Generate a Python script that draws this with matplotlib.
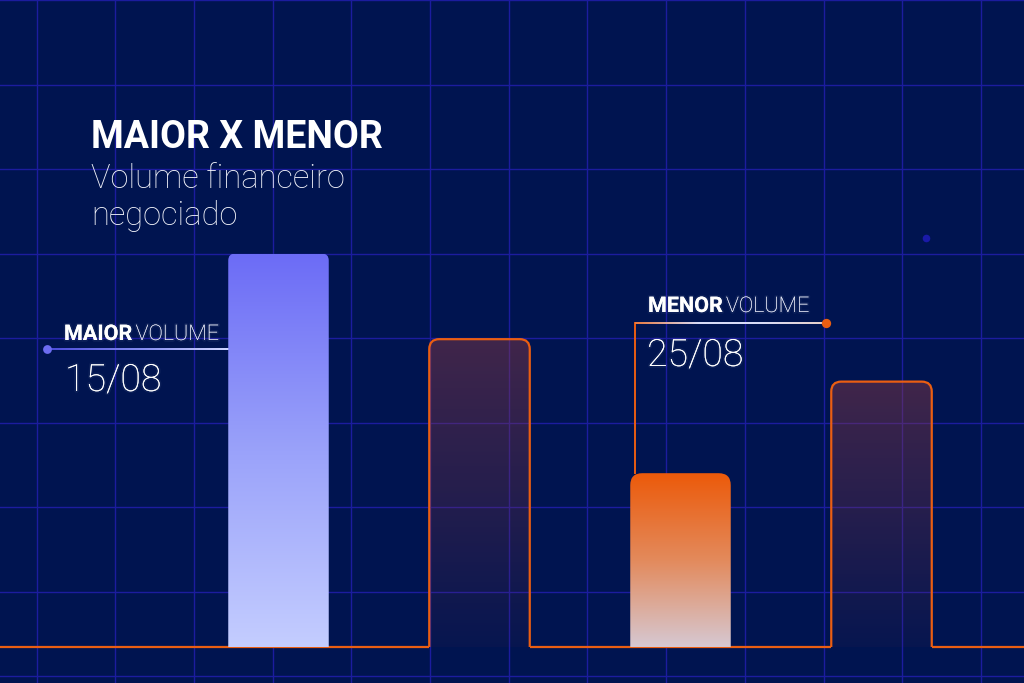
import numpy as np
import matplotlib.pyplot as plt
import matplotlib.patheffects as pe
from matplotlib.patches import FancyBboxPatch, Rectangle
from matplotlib.colors import to_rgb

# dados (volume relativo, maior = 100)
volumes = [100, 78.2, 44.1, 67.4]
bar_kind = ['maior', 'outline', 'menor', 'outline']

title = 'MAIOR X MENOR'
subtitle = ['Volume financeiro', 'negociado']
maior_label = ['MAIOR', 'VOLUME']
maior_date = '15/08'
menor_label = ['MENOR', 'VOLUME']
menor_date = '25/08'

BG = '#001450'
GRID = '#1c1c9e'
ORANGE = '#ea5e12'
W, H = 1024, 683

plt.rcParams['font.family'] = ['Roboto', 'DejaVu Sans']

fig = plt.figure(figsize=(W / 100, H / 100), dpi=100)
fig.patch.set_facecolor(BG)

# fundo em pixels: grade
bg = fig.add_axes([0, 0, 1, 1])
bg.axis('off')
bg.set_xlim(0, W)
bg.set_ylim(H, 0)
bg.set_autoscale_on(False)
for gx in np.arange(36.5, W, 78.7):
    bg.axvline(gx, color=GRID, lw=1.0, zorder=0)
for gy in np.arange(0, H, 84.5):
    bg.axhline(gy, color=GRID, lw=1.0, zorder=0)
bg.scatter([926], [238], s=30, color='#1a1aa8', zorder=1, linewidths=0)

# eixo dos dados
step, ppu = 201.0, 3.93   # px por categoria / px por unidade
x0px, base_px = 278.5, 36.5
ax = fig.add_axes([0, 0, 1, 1])
ax.patch.set_alpha(0)
ax.axis('off')
xlim = (-x0px / step, (W - x0px) / step)
ylim = (-base_px / ppu, (H - base_px) / ppu)
x = np.arange(len(volumes))
bars = ax.bar(x, volumes, width=0.5, alpha=0)
ax.set_xlim(*xlim)
ax.set_ylim(*ylim)
ax.set_autoscale_on(False)

def rounded(b, r_px=10, bottom=-3, **kw):
    p = FancyBboxPatch((b.get_x(), bottom), b.get_width(), b.get_height() - bottom,
                       boxstyle=f'round,pad=0,rounding_size={r_px / step}',
                       mutation_aspect=step / ppu, transform=ax.transData, **kw)
    return p

def grad_img(stops, alphas, vertical=True):
    t = np.linspace(0, 1, 256)
    pos = np.linspace(0, 1, len(stops))
    cols = np.array([to_rgb(c) for c in stops])
    rgb = np.stack([np.interp(t, pos, cols[:, i]) for i in range(3)], axis=1)
    a = np.interp(t, np.linspace(0, 1, len(alphas)), alphas)[:, None]
    img = np.concatenate([rgb, a], axis=1)
    return img[:, None, :] if vertical else img[None, :, :]

def gradient(b, stops, alphas, clip, z):
    im = ax.imshow(grad_img(stops, alphas),
                   extent=(b.get_x(), b.get_x() + b.get_width(), 0, b.get_height()),
                   origin='upper', aspect='auto', interpolation='bilinear', zorder=z)
    im.set_clip_path(clip)

above = Rectangle((xlim[0], 0), xlim[1] - xlim[0], ylim[1], transform=ax.transData)

# linha de base laranja
segs = [(xlim[0], bars[1].get_x()),
        (bars[1].get_x() + bars[1].get_width(), bars[3].get_x()),
        (bars[3].get_x() + bars[3].get_width(), xlim[1])]
for a0, a1 in segs:
    ax.plot([a0, a1], [0, 0], color=ORANGE, lw=1.6, zorder=3, solid_capstyle='butt')

for b, kind in zip(bars, bar_kind):
    if kind == 'outline':
        clip = rounded(b, facecolor='none', edgecolor='none')
        ax.add_patch(clip)
        gradient(b, ['#903c44', '#7a3448'], (0.45, 0.28, 0.06), clip, 2)
        edge = rounded(b, facecolor='none', edgecolor=ORANGE, lw=1.6, zorder=3)
        ax.add_patch(edge)
        edge.set_clip_path(above)
    elif kind == 'maior':
        clip = rounded(b, r_px=7, facecolor='none', edgecolor='none')
        ax.add_patch(clip)
        gradient(b, ['#6c6cf6', '#9aa2fa', '#c4cdff'], (1, 1), clip, 4)
    else:
        clip = rounded(b, r_px=12, facecolor='none', edgecolor='none')
        ax.add_patch(clip)
        gradient(b, ['#ec5a0a', '#e38a5c', '#d6c8d2'], (1, 1), clip, 4)

def to_px(xd, yd):
    d = ax.transData.transform((xd, yd))
    return bg.transData.inverted().transform(d)

glow = [pe.withStroke(linewidth=2.5, foreground=(1, 1, 1, 0.05))]

# titulo
bg.text(91, 148, title, fontsize=27, fontweight='bold', color='white', zorder=6)
bg.text(91, 188, subtitle[0], fontsize=23.5, fontweight='light', color='#f2f3fa', zorder=6)
bg.text(91, 225, subtitle[1], fontsize=23.5, fontweight='light', color='#f2f3fa', zorder=6)

fig.canvas.draw()
renderer = fig.canvas.get_renderer()

def two_part(xp, yp, parts):
    t1 = bg.text(xp, yp, parts[0] + ' ', fontsize=15.5, fontweight='bold', color='white',
                 zorder=6, path_effects=glow)
    w = t1.get_window_extent(renderer).width
    bg.text(xp + w - 2, yp, parts[1], fontsize=15.5, fontweight='light', color='#e4e6f4',
            zorder=6, path_effects=glow)

# anotacao maior volume
b1_left = to_px(bars[0].get_x(), 0)[0]
bg.imshow(grad_img(['#4a4ad8', '#8088f0', '#d0d6ff'], (1, 1), vertical=False),
          extent=(47, b1_left, 350, 348), aspect='auto', interpolation='bilinear', zorder=5)
bg.scatter([47], [349], s=40, color='#6c6cf0', zorder=6, linewidths=0)
two_part(64, 340, maior_label)
bg.text(65, 391, maior_date, fontsize=27, fontweight='light', color='white', zorder=6,
        path_effects=glow)

# anotacao menor volume
b3_top = to_px(bars[2].get_x(), bars[2].get_height())[1]
bg.plot([635, 635], [322.5, b3_top], color=ORANGE, lw=1.4, zorder=5)
bg.imshow(grad_img(['#e87a40', '#d8dcf8', '#d8dcf8', '#e8d0c8'], (1, 1), vertical=False),
          extent=(635, 826, 324, 322), aspect='auto', interpolation='bilinear', zorder=5)
bg.scatter([826], [323], s=45, color=ORANGE, zorder=6, linewidths=0)
two_part(648, 312, menor_label)
bg.text(647, 366, menor_date, fontsize=27, fontweight='light', color='white', zorder=6,
        path_effects=glow)

bg.set_xlim(0, W)
bg.set_ylim(H, 0)

fig.savefig('out.png', dpi=100, facecolor=BG)
